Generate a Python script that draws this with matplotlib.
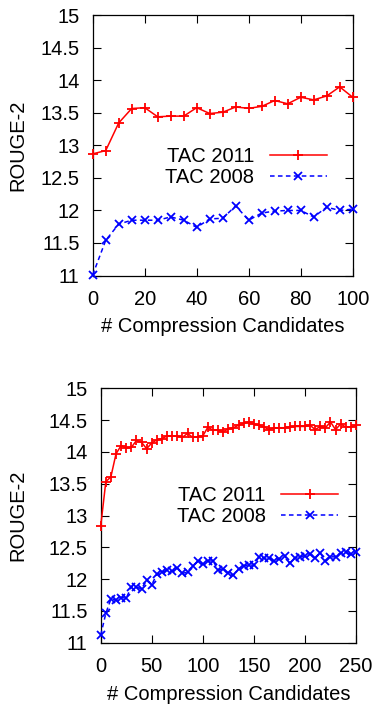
import matplotlib
matplotlib.use("Agg")
import matplotlib.pyplot as plt
import matplotlib.transforms as mtransforms

plt.rcParams['font.family'] = ['Liberation Sans', 'DejaVu Sans']

# ---- data: top panel (0..100 candidates) ----
top_x = list(range(0, 101, 5))
top_tac2011 = [12.87, 12.92, 13.345, 13.567, 13.58, 13.44, 13.45, 13.45, 13.58, 13.49, 13.51,
               13.59, 13.57, 13.60, 13.69, 13.64, 13.74, 13.70, 13.76, 13.90, 13.74]
top_tac2008 = [11.01, 11.54, 11.79, 11.85, 11.85, 11.85, 11.90, 11.85, 11.74, 11.87, 11.88,
               12.07, 11.85, 11.96, 11.99, 12.00, 12.00, 11.90, 12.05, 12.00, 12.02]

# ---- data: bottom panel (0..250 candidates) ----
bot_x = list(range(0, 251, 5))
bot_tac2011 = [12.83, 13.53, 13.61, 13.97, 14.10, 14.06, 14.07, 14.18, 14.15, 14.05, 14.14,
               14.19, 14.21, 14.25, 14.25, 14.25, 14.23, 14.29, 14.23, 14.24, 14.25,
               14.39, 14.34, 14.34, 14.32, 14.36, 14.38, 14.42, 14.45, 14.47, 14.44,
               14.42, 14.39, 14.35, 14.38, 14.38, 14.38, 14.39, 14.40, 14.40, 14.40,
               14.42, 14.35, 14.40, 14.38, 14.47, 14.35, 14.44, 14.39, 14.39, 14.42]
bot_tac2008 = [11.12, 11.46, 11.69, 11.67, 11.71, 11.70, 11.88, 11.87, 11.85, 11.98, 11.91,
               12.08, 12.11, 12.14, 12.12, 12.18, 12.09, 12.11, 12.20, 12.28, 12.23,
               12.28, 12.29, 12.14, 12.16, 12.09, 12.06, 12.16, 12.21, 12.22, 12.22,
               12.35, 12.33, 12.33, 12.28, 12.32, 12.37, 12.25, 12.33, 12.35, 12.37,
               12.39, 12.33, 12.41, 12.29, 12.35, 12.35, 12.41, 12.42, 12.39, 12.42]

series_labels = ['TAC 2011', 'TAC 2008']
y_ticks = [11, 11.5, 12, 12.5, 13, 13.5, 14, 14.5, 15]
y_ticklabels = ['11', '11.5', '12', '12.5', '13', '13.5', '14', '14.5', '15']
top_xticks = [0, 20, 40, 60, 80, 100]
bot_xticks = [0, 50, 100, 150, 200, 250]

W, H = 375, 704
fig = plt.figure(figsize=(W / 100, H / 100), dpi=100)

FS = 14.5


def px_axes(l, r, t, b):
    return fig.add_axes([l / W, 1 - b / H, (r - l) / W, (b - t) / H])


def style(ax, xticks, xlim):
    ax.set_xlim(*xlim)
    ax.set_ylim(11, 15)
    ax.set_xticks(xticks)
    ax.set_xticklabels([str(v) for v in xticks])
    ax.set_yticks(y_ticks)
    ax.set_yticklabels(y_ticklabels)
    ax.tick_params(direction='in', length=5.5, width=0.8, top=True, right=True,
                   labelsize=FS)
    ax.tick_params(axis='y', pad=9.5)
    ax.tick_params(axis='x', pad=10.5)
    for s in ax.spines.values():
        s.set_linewidth(0.9)
    ax.set_xlabel('# Compression Candidates', fontsize=FS, labelpad=6)
    ax.set_ylabel('ROUGE-2', fontsize=FS)
    trans = mtransforms.blended_transform_factory(fig.transFigure, ax.transAxes)
    ax.yaxis.set_label_coords(27 / W, 0.5, transform=trans)


def draw(ax, xs, y1, y2, leg_anchor):
    ax.plot(xs, y1, color='red', lw=1.1, marker='+', ms=7, mew=1.3,
            label=series_labels[0], clip_on=False, zorder=3)
    ax.plot(xs, y2, color='blue', lw=1.1, ls=(0, (3, 2.2)), marker='x', ms=5.5, mew=1.3,
            label=series_labels[1], clip_on=False, zorder=3)
    ax.legend(loc='upper right', bbox_to_anchor=leg_anchor, bbox_transform=fig.transFigure,
              frameon=False, markerfirst=False, fontsize=FS, handlelength=2.85,
              handletextpad=0.75, labelspacing=0.12, borderpad=0, borderaxespad=0,
              numpoints=1)


ax1 = px_axes(92.7, 352.7, 15.3, 275.5)
style(ax1, top_xticks, (0, 100))
draw(ax1, top_x, top_tac2011, top_tac2008, (327 / W, 1 - 147 / H))

ax2 = px_axes(100.7, 356, 388.3, 642.7)
style(ax2, bot_xticks, (0, 250))
draw(ax2, bot_x, bot_tac2011, bot_tac2008, (338.3 / W, 1 - 486 / H))

fig.savefig('out.png', dpi=100)
